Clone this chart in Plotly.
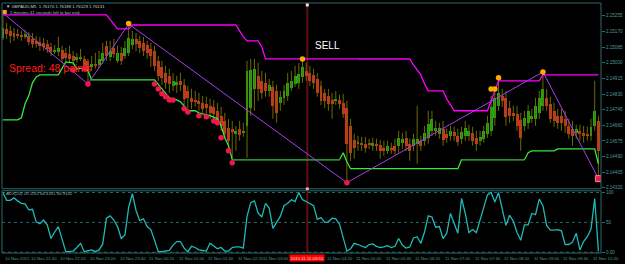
import plotly.graph_objects as go

# ---------------- data ----------------
bar_index = list(range(-7, 155))

opens = [
    2.15135, 2.15184, 2.15173, 2.15162, 2.15157, 2.15151, 2.15141,
    2.15146, 2.15130, 2.15119, 2.15113, 2.15108, 2.15103, 2.15086, 2.15059, 2.15059, 2.15070,
    2.15054, 2.15048, 2.15037, 2.15016, 2.15021, 2.15021, 2.15010, 2.14978, 2.14994, 2.14988,
    2.15010, 2.15092, 2.15032, 2.15081, 2.15010, 2.15054, 2.15037, 2.15054, 2.15097, 2.15130,
    2.15119, 2.15108, 2.15097, 2.15075, 2.15064, 2.15010, 2.14978, 2.14945, 2.14929, 2.14874,
    2.14880, 2.14902, 2.14880, 2.14847, 2.14809, 2.14798, 2.14793, 2.14782, 2.14777, 2.14766,
    2.14760, 2.14739, 2.14712, 2.14684, 2.14646, 2.14641, 2.14614, 2.14641, 2.14619, 2.14657,
    2.14755, 2.14858, 2.14929, 2.14902, 2.14891, 2.14847, 2.14869, 2.14847, 2.14782, 2.14809,
    2.14820, 2.14864, 2.14885, 2.14891, 2.14923, 2.14956, 2.14945, 2.14934, 2.14912, 2.14874,
    2.14836, 2.14820, 2.14798, 2.14793, 2.14798, 2.14782, 2.14755, 2.14657, 2.14581, 2.14560,
    2.14565, 2.14560, 2.14560, 2.14549, 2.14560, 2.14554, 2.14538, 2.14521, 2.14538, 2.14549,
    2.14549, 2.14565, 2.14592, 2.14560, 2.14549, 2.14560, 2.14576, 2.14576, 2.14592, 2.14630,
    2.14630, 2.14614, 2.14641, 2.14614, 2.14603, 2.14625, 2.14603, 2.14587, 2.14603, 2.14603,
    2.14619, 2.14592, 2.14576, 2.14587, 2.14614, 2.14630, 2.14701, 2.14766, 2.14820, 2.14809,
    2.14755, 2.14728, 2.14722, 2.14690, 2.14657, 2.14674, 2.14695, 2.14695, 2.14728, 2.14766,
    2.14809, 2.14777, 2.14739, 2.14712, 2.14712, 2.14695, 2.14657, 2.14641, 2.14619, 2.14630,
    2.14619, 2.14614, 2.14603, 2.14657, 2.14684,
]

highs = [
    2.15271, 2.15217, 2.15200, 2.15189, 2.15184, 2.15173, 2.15179,
    2.15168, 2.15162, 2.15146, 2.15141, 2.15135, 2.15124, 2.15108, 2.15097, 2.15141, 2.15092,
    2.15081, 2.15092, 2.15064, 2.15054, 2.15075, 2.15037, 2.15021, 2.15037, 2.15054, 2.15064,
    2.15108, 2.15119, 2.15119, 2.15130, 2.15092, 2.15086, 2.15119, 2.15211, 2.15173, 2.15162,
    2.15146, 2.15141, 2.15119, 2.15108, 2.15092, 2.15037, 2.15010, 2.14983, 2.14967, 2.14945,
    2.14929, 2.14945, 2.14912, 2.14874, 2.14858, 2.14847, 2.14836, 2.14820, 2.14815, 2.14804,
    2.14798, 2.14782, 2.14760, 2.14728, 2.14695, 2.14684, 2.14657, 2.14684, 2.14674, 2.15010,
    2.15021, 2.15021, 2.14999, 2.14956, 2.14945, 2.14912, 2.14902, 2.14880, 2.14847, 2.14880,
    2.14945, 2.14956, 2.14983, 2.14999, 2.15021, 2.14999, 2.14983, 2.14967, 2.14945, 2.14902,
    2.14858, 2.14858, 2.14836, 2.14847, 2.14826, 2.14831, 2.14793, 2.14695, 2.14614, 2.14603,
    2.14597, 2.14597, 2.14587, 2.14592, 2.14587, 2.14581, 2.14576, 2.14576, 2.14565, 2.14587,
    2.14630, 2.14619, 2.14630, 2.14587, 2.14614, 2.14766, 2.14603, 2.14657, 2.14739, 2.14739,
    2.14684, 2.14674, 2.14684, 2.14641, 2.14657, 2.14652, 2.14641, 2.14652, 2.14684, 2.14663,
    2.14652, 2.14630, 2.14630, 2.14657, 2.14712, 2.14820, 2.14858, 2.14912, 2.14858, 2.14847,
    2.14793, 2.14766, 2.14766, 2.14728, 2.14739, 2.14771, 2.14750, 2.14809, 2.14847, 2.14950,
    2.14858, 2.14815, 2.14782, 2.14750, 2.14750, 2.14739, 2.14695, 2.14684, 2.14663, 2.14663,
    2.14657, 2.14652, 2.14695, 2.14902, 2.14712,
]

lows = [
    2.15124, 2.15130, 2.15108, 2.15119, 2.15130, 2.15119, 2.15130,
    2.15097, 2.15081, 2.15081, 2.15064, 2.15064, 2.15054, 2.15037, 2.15048, 2.15037, 2.14999,
    2.15010, 2.14999, 2.14988, 2.14999, 2.15010, 2.14967, 2.14885, 2.14956, 2.14967, 2.14972,
    2.14994, 2.15010, 2.15010, 2.15026, 2.14999, 2.14988, 2.15021, 2.15037, 2.15075, 2.15064,
    2.15054, 2.15037, 2.15021, 2.14978, 2.14956, 2.14902, 2.14880, 2.14858, 2.14836, 2.14847,
    2.14836, 2.14847, 2.14771, 2.14750, 2.14750, 2.14760, 2.14739, 2.14728, 2.14712, 2.14695,
    2.14684, 2.14663, 2.14630, 2.14592, 2.14532, 2.14478, 2.14521, 2.14576, 2.14597, 2.14483,
    2.14712, 2.14739, 2.14793, 2.14804, 2.14815, 2.14815, 2.14695, 2.14674, 2.14739, 2.14771,
    2.14793, 2.14847, 2.14869, 2.14858, 2.14891, 2.14902, 2.14874, 2.14858, 2.14815, 2.14771,
    2.14755, 2.14739, 2.14695, 2.14771, 2.14750, 2.14701, 2.14348, 2.14467, 2.14478, 2.14521,
    2.14521, 2.14511, 2.14532, 2.14521, 2.14521, 2.14478, 2.14494, 2.14505, 2.14505, 2.14500,
    2.14511, 2.14532, 2.14521, 2.14467, 2.14521, 2.14451, 2.14521, 2.14549, 2.14560, 2.14603,
    2.14603, 2.14587, 2.14549, 2.14565, 2.14576, 2.14576, 2.14549, 2.14560, 2.14576, 2.14576,
    2.14549, 2.14521, 2.14549, 2.14565, 2.14592, 2.14603, 2.14657, 2.14739, 2.14760, 2.14657,
    2.14674, 2.14684, 2.14630, 2.14521, 2.14630, 2.14641, 2.14674, 2.14657, 2.14695, 2.14739,
    2.14739, 2.14674, 2.14652, 2.14641, 2.14630, 2.14619, 2.14587, 2.14549, 2.14587, 2.14576,
    2.14565, 2.14576, 2.14576, 2.14630, 2.14370,
]

closes = [
    2.15189, 2.15157, 2.15146, 2.15141, 2.15146, 2.15141, 2.15157,
    2.15113, 2.15103, 2.15103, 2.15092, 2.15086, 2.15075, 2.15059, 2.15070, 2.15081, 2.15021,
    2.15026, 2.15021, 2.15010, 2.15032, 2.15032, 2.14983, 2.14956, 2.14994, 2.14983, 2.15021,
    2.15054, 2.15037, 2.15064, 2.15048, 2.15054, 2.15010, 2.15081, 2.15135, 2.15130, 2.15103,
    2.15081, 2.15064, 2.15054, 2.15037, 2.14983, 2.14929, 2.14918, 2.14891, 2.14885, 2.14902,
    2.14896, 2.14880, 2.14804, 2.14809, 2.14788, 2.14788, 2.14777, 2.14750, 2.14755, 2.14728,
    2.14722, 2.14674, 2.14657, 2.14614, 2.14576, 2.14625, 2.14630, 2.14608, 2.14630, 2.14956,
    2.14961, 2.14967, 2.14858, 2.14836, 2.14847, 2.14880, 2.14766, 2.14728, 2.14815, 2.14847,
    2.14891, 2.14902, 2.14929, 2.14940, 2.14978, 2.14929, 2.14902, 2.14891, 2.14836, 2.14793,
    2.14793, 2.14777, 2.14777, 2.14804, 2.14777, 2.14722, 2.14560, 2.14511, 2.14538, 2.14570,
    2.14554, 2.14538, 2.14554, 2.14565, 2.14549, 2.14521, 2.14521, 2.14549, 2.14527, 2.14521,
    2.14592, 2.14587, 2.14549, 2.14521, 2.14587, 2.14587, 2.14549, 2.14619, 2.14668, 2.14695,
    2.14646, 2.14646, 2.14581, 2.14592, 2.14630, 2.14603, 2.14570, 2.14625, 2.14646, 2.14630,
    2.14576, 2.14560, 2.14597, 2.14630, 2.14674, 2.14760, 2.14809, 2.14836, 2.14793, 2.14706,
    2.14712, 2.14712, 2.14657, 2.14592, 2.14701, 2.14739, 2.14712, 2.14766, 2.14809, 2.14858,
    2.14766, 2.14695, 2.14684, 2.14674, 2.14674, 2.14657, 2.14614, 2.14603, 2.14641, 2.14614,
    2.14603, 2.14603, 2.14652, 2.14739, 2.14521,
]

osc_vals = [
    100, 87, 87, 91, 86, 82, 81,
    71, 72, 51, 48, 54, 46, 23, 34, 43, 22,
    1, 1, 2, 8, 15, 1, 2, 4, 1, 4,
    14, 57, 61, 54, 43, 23, 29, 75, 98, 70,
    53, 56, 43, 38, 20, 1, 1, 2, 3, 12,
    18, 18, 7, 1, 10, 8, 4, 3, 2, 15,
    10, 6, 8, 2, 2, 8, 9, 9, 7, 60,
    83, 86, 66, 59, 82, 74, 40, 50, 60, 78,
    82, 88, 85, 100, 88, 85, 82, 78, 55, 58,
    50, 51, 57, 56, 47, 26, 2, 6, 15, 13,
    11, 8, 13, 14, 10, 8, 9, 11, 8, 10,
    23, 12, 7, 9, 24, 26, 15, 34, 61, 59,
    42, 43, 23, 32, 65, 48, 32, 90, 65, 33,
    38, 33, 55, 77, 96, 100, 84, 100, 75, 45,
    62, 52, 33, 20, 46, 46, 65, 63, 89, 78,
    45, 37, 37, 38, 36, 13, 13, 17, 32, 4,
    18, 26, 39, 90, 2,
]

upper_bars = [-7, 21, 24, 27, 28, 56, 57, 58, 59, 62, 63, 64, 103, 104, 106, 107, 108,
              112, 113, 115, 124, 127, 138, 139, 154]
upper_vals = [2.15260, 2.15260, 2.15184, 2.15184, 2.15206, 2.15206, 2.15173, 2.15141, 2.15119,
              2.15119, 2.15086, 2.15021, 2.15021, 2.14988, 2.14934, 2.14885, 2.14847, 2.14847,
              2.14804, 2.14739, 2.14739, 2.14902, 2.14902, 2.14934, 2.14934]
upper_dark_bars = [[28, 56], [89, 103]]
upper_dark_vals = [2.15206, 2.15021]

lower_bars = [-7, -3, -2, -1, 0, 1, 2, 3, 8, 10, 12, 13, 15, 16, 17, 34, 36, 38, 40, 41, 42,
              43, 45, 46, 47, 49, 51, 52, 53, 54, 55, 84, 85, 86, 87, 116, 117, 134, 135, 136,
              142, 143, 153, 154]
lower_vals = [2.14690, 2.14690, 2.14701, 2.14777, 2.14820, 2.14891, 2.14923, 2.14934, 2.14934,
              2.15005, 2.14999, 2.14967, 2.14972, 2.14956, 2.14907, 2.14907, 2.14858, 2.14809,
              2.14798, 2.14788, 2.14766, 2.14739, 2.14739, 2.14728, 2.14722, 2.14712, 2.14695,
              2.14657, 2.14592, 2.14549, 2.14473, 2.14473, 2.14511, 2.14462, 2.14424, 2.14424,
              2.14473, 2.14473, 2.14511, 2.14521, 2.14521, 2.14532, 2.14532, 2.14451]
lower_dark_bars = [[55, 84], [117, 134]]
lower_dark_vals = [2.14473, 2.14473]

zz_bars = [-7, 16, 27, 86, 139, 154]
zz_vals = [2.15271, 2.14885, 2.15211, 2.14348, 2.14950, 2.14370]

orange_bars = [27, 74, 125, 126, 127, 139]
orange_vals = [2.15214, 2.15021, 2.14858, 2.14858, 2.14918, 2.14950]

red_bars = [12, 15, 16, 34, 35, 36, 37, 38, 39, 42, 43, 46, 48, 50, 51, 52, 54, 55, 86]
red_vals = [2.14961, 2.14967, 2.14885, 2.14885, 2.14858, 2.14831, 2.14815, 2.14798, 2.14798,
            2.14750, 2.14733, 2.14712, 2.14706, 2.14684, 2.14674, 2.14592, 2.14521, 2.14456,
            2.14348]
last_bar = [154]
last_val = [2.14370]

price_ticks = [2.15255, 2.15170, 2.15085, 2.15000, 2.14915, 2.14830, 2.14745, 2.14660,
               2.14575, 2.14490, 2.14405, 2.14320]
osc_ticks = [0, 50, 100]
osc_tick_text = ["0.00", "50", "100"]

time_tick_bars = [-7, 0, 8, 16, 24, 32, 40, 48, 56, 64, 80, 88, 96, 104, 112, 120, 128, 136, 144, 152]
time_tick_labels = ["10 Nov 2015", "10 Nov 21:40", "10 Nov 22:20", "10 Nov 23:00", "10 Nov 23:40",
                    "11 Nov 00:20", "11 Nov 01:00", "11 Nov 01:40", "11 Nov 02:20", "11 Nov 03:00",
                    "11 Nov 04:20", "11 Nov 05:00", "11 Nov 05:40", "11 Nov 06:20", "11 Nov 07:00",
                    "11 Nov 07:40", "11 Nov 08:20", "11 Nov 09:00", "11 Nov 09:40", "11 Nov 10:20"]

cursor_bar = 75.3
cursor_label = "2015.11.11 03:55"
title_text = "\u25bc GBPAUD,M5  1.76170 1.76188 1.76129 1.76131"
timer_text = "5 minutes 41 seconds left to bar end"
osc_title = "ADX(20) 20.1132 66.4101 66.9102"

# ---------------- styles ----------------
BG = "black"
FRAME = "#2b6a6a"
TXT = "#4f9a9a"
WICK = "#6c6a00"
UPC = "#16b016"
DNC = "#e02828"
FONT = "Liberation Sans"
LBL = 4.3

fig = go.Figure()

# wicks
wx, wy = [], []
for i, h, l in zip(bar_index, highs, lows):
    wx += [i, i, None]
    wy += [h, l, None]
fig.add_trace(go.Scatter(x=wx, y=wy, mode="lines", line=dict(color=WICK, width=1),
                         hoverinfo="skip", xaxis="x", yaxis="y"))

# bodies
bases = [min(o, c) for o, c in zip(opens, closes)]
heights = [max(abs(c - o), 0.000015) for o, c in zip(opens, closes)]
colors = [UPC if c >= o else DNC for o, c in zip(opens, closes)]
fig.add_trace(go.Bar(x=bar_index, y=heights, base=bases, width=0.8,
                     marker=dict(color=colors, line=dict(width=0)),
                     hoverinfo="skip", xaxis="x", yaxis="y"))

# lower band
fig.add_trace(go.Scatter(x=lower_bars, y=lower_vals, mode="lines",
                         line=dict(color="#3ae83a", width=1.3), xaxis="x", yaxis="y"))
for seg, v in zip(lower_dark_bars, lower_dark_vals):
    fig.add_trace(go.Scatter(x=seg, y=[v, v], mode="lines",
                             line=dict(color="#2a8f2a", width=1.6), xaxis="x", yaxis="y"))

# upper band
fig.add_trace(go.Scatter(x=upper_bars, y=upper_vals, mode="lines",
                         line=dict(color="#ff00ff", width=1.3), xaxis="x", yaxis="y"))
for seg, v in zip(upper_dark_bars, upper_dark_vals):
    fig.add_trace(go.Scatter(x=seg, y=[v, v], mode="lines",
                             line=dict(color="#c000c0", width=1.6), xaxis="x", yaxis="y"))

# zigzag
fig.add_trace(go.Scatter(x=zz_bars, y=zz_vals, mode="lines",
                         line=dict(color="#a63ff0", width=1), xaxis="x", yaxis="y"))

# dots
fig.add_trace(go.Scatter(x=red_bars, y=red_vals, mode="markers",
                         marker=dict(color="#f0184a", size=5.5), xaxis="x", yaxis="y"))
fig.add_trace(go.Scatter(x=last_bar, y=last_val, mode="markers",
                         marker=dict(color="#f0184a", size=6, symbol="square",
                                     line=dict(color="#ff8090", width=1)), xaxis="x", yaxis="y"))
fig.add_trace(go.Scatter(x=orange_bars, y=orange_vals, mode="markers",
                         marker=dict(color="#ffa800", size=5.5), xaxis="x", yaxis="y"))

# oscillator
fig.add_trace(go.Scatter(x=bar_index, y=osc_vals, mode="lines",
                         line=dict(color="#20b8b8", width=1.3), xaxis="x", yaxis="y2"))

MAIN_DOM = [0.257, 1.0]
OSC_DOM = [0.0, 0.249]

shapes = []
shapes.append(dict(type="line", xref="x", yref="paper", x0=cursor_bar, x1=cursor_bar,
                   y0=0, y1=1, line=dict(color="#5e1010", width=2), layer="below"))
for v in osc_ticks:
    shapes.append(dict(type="line", xref="paper", yref="y2", x0=0, x1=1, y0=v, y1=v,
                       line=dict(color="#2f6666", width=1, dash="dot"), layer="below"))
shapes.append(dict(type="rect", xref="paper", yref="paper", x0=0, x1=1, y0=MAIN_DOM[0], y1=MAIN_DOM[1],
                   line=dict(color=FRAME, width=1)))
shapes.append(dict(type="rect", xref="paper", yref="paper", x0=0, x1=1, y0=OSC_DOM[0], y1=OSC_DOM[1],
                   line=dict(color=FRAME, width=1)))
shapes.append(dict(type="rect", xref="x", yref="paper", x0=cursor_bar - 0.4, x1=cursor_bar + 0.4,
                   y0=0.986, y1=0.998, fillcolor="#f4e0e0", line=dict(width=0)))
shapes.append(dict(type="rect", xref="x", yref="paper", x0=cursor_bar - 0.4, x1=cursor_bar + 0.4,
                   y0=0.252, y1=0.262, fillcolor="#ffb0b0", line=dict(width=0)))
shapes.append(dict(type="rect", xref="paper", yref="paper", x0=0.001, x1=0.008,
                   y0=0.956, y1=0.972, fillcolor="#f0a020", line=dict(width=0)))

annotations = []
for b, t in zip(time_tick_bars, time_tick_labels):
    shift = -5 if t == "11 Nov 03:00" else 0
    annotations.append(dict(x=b, y=0, xref="x", yref="paper", text=t, showarrow=False,
                            xanchor="left", yanchor="top", yshift=-1, xshift=shift,
                            font=dict(family=FONT, size=LBL, color=TXT)))
annotations.append(dict(x=cursor_bar, y=0, xref="x", yref="paper", text=cursor_label,
                        showarrow=False, xanchor="center", yanchor="top", yshift=-1,
                        bgcolor="#ff0000", borderpad=0.5,
                        font=dict(family=FONT, size=LBL, color="#ffe0e0")))
annotations.append(dict(x=0.004, y=0.988, xref="paper", yref="paper", text=title_text,
                        showarrow=False, xanchor="left", yanchor="middle",
                        font=dict(family=FONT, size=LBL, color="#c8d0d0")))
annotations.append(dict(x=0.01, y=0.964, xref="paper", yref="paper", text=timer_text,
                        showarrow=False, xanchor="left", yanchor="middle",
                        font=dict(family=FONT, size=LBL, color="#8fc0c0")))
annotations.append(dict(x=0.004, y=0.238, xref="paper", yref="paper", text=osc_title,
                        showarrow=False, xanchor="left", yanchor="middle",
                        font=dict(family=FONT, size=LBL, color="#8fb0b0")))
annotations.append(dict(x=76.9, y=2.15092, xref="x", yref="y", text="SELL", showarrow=False,
                        xanchor="left", yanchor="middle",
                        font=dict(family=FONT, size=10, color="white")))
annotations.append(dict(x=-5.9, y=2.14972, xref="x", yref="y", text="Spread: 48 points",
                        showarrow=False, xanchor="left", yanchor="middle",
                        font=dict(family=FONT, size=10.5, color="#ff1a1a")))

fig.update_layout(
    width=625, height=264,
    margin=dict(l=2, r=19, t=2, b=11),
    paper_bgcolor=BG, plot_bgcolor=BG,
    showlegend=False,
    bargap=0,
    xaxis=dict(range=[-7.24, 154.7], showgrid=False, zeroline=False, showticklabels=False,
               ticks="", showline=False, anchor="y2"),
    yaxis=dict(domain=MAIN_DOM, range=[2.14315, 2.15325], side="right",
               tickvals=price_ticks, ticktext=[f"{v:.5f}" for v in price_ticks],
               tickfont=dict(family=FONT, size=4.6, color=TXT),
               ticks="outside", ticklen=3, tickcolor=FRAME,
               showgrid=False, zeroline=False, showline=False),
    yaxis2=dict(domain=OSC_DOM, range=[-1.2, 103], side="right",
                tickvals=osc_ticks, ticktext=osc_tick_text,
                tickfont=dict(family=FONT, size=4.6, color=TXT),
                ticks="outside", ticklen=3, tickcolor=FRAME,
                showgrid=False, zeroline=False, showline=False),
    shapes=shapes,
    annotations=annotations,
)

fig.write_html("out.html")
